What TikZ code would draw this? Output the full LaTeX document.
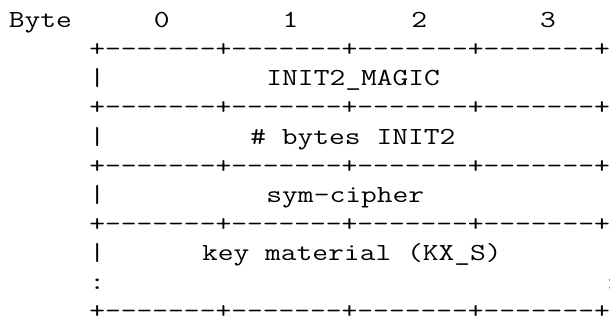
\documentclass[tikz,border=0pt]{standalone}
\usepackage{fontspec}

% typewriter face, widened so one column is 8.05pt
\newcommand\asciifont{\ttfamily\fontsize{12.25}{14}\selectfont}
\newcommand\wide[1]{\scalebox{1.25}[1]{#1}}
\newcommand\dashrun{-\kern0pt-\kern0pt-\kern0pt-\kern0pt-\kern0pt-\kern0pt-}
\newcommand\wordrule{+\dashrun+\dashrun+\dashrun+\dashrun+}

\begin{document}
\begin{tikzpicture}
	[
	x=0.5pt, y=-0.5pt,
	cell/.style = {anchor=base west, inner sep=0pt, font=\asciifont}
	]
	\useasboundingbox (0,0) rectangle (610,320);
	% column k starts at 8.45+16.1k, line r sits at 27.7+29.1r
	\node[cell] (byte) at (8.45,27.7) {\wide{Byte}};
	\foreach \b/\c in {0/9,1/17,2/25,3/33}
		\node[cell] (byte-\b) at ({8.45+16.1*\c},27.7) {\wide{\b}};

	\foreach \r in {1,3,5,7,10}
		\node[cell] (rule-\r) at ({8.45+16.1*5},{27.7+29.1*\r}) {\wide{\wordrule}};
	\foreach \r in {2,4,6,8}{
		\node[cell] (left-\r) at ({8.45+16.1*5},{27.7+29.1*\r}) {\wide{|}};
		\node[cell] (right-\r) at (603,{27.7+29.1*\r}) {\wide{|}};
	}
	\node[cell] (left-9) at ({8.45+16.1*5},{27.7+29.1*9}) {\wide{:}};
	\node[cell] (right-9) at (603,{27.7+29.1*9}) {\wide{:}};

	\node[cell] (magic) at ({8.45+16.1*16},{27.7+29.1*2}) {\wide{INIT2\_MAGIC}};
	\node[cell] (length) at ({8.45+16.1*15},{27.7+29.1*4}) {\wide{\# bytes INIT2}};
	\node[cell] (cipher) at ({8.45+16.1*16},{27.7+29.1*6}) {\wide{sym-cipher}};
	\node[cell] (keymat) at ({8.45+16.1*12},{27.7+29.1*8}) {\wide{key material (KX\_S)}};
\end{tikzpicture}
\end{document}
